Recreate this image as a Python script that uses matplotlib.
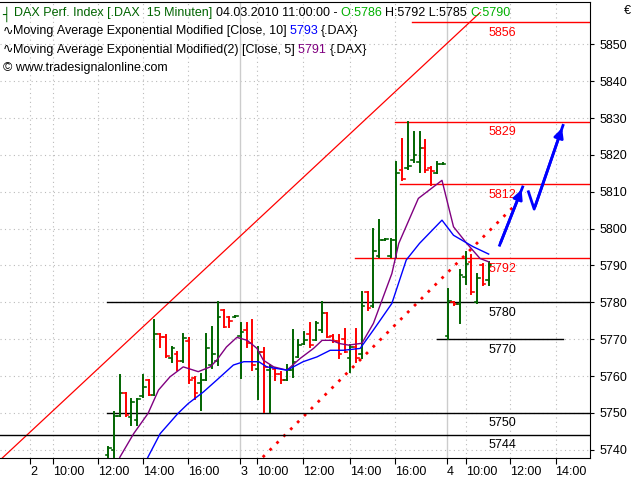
import matplotlib
matplotlib.use("Agg")
import matplotlib.pyplot as plt

plt.rcParams['font.family'] = ['Liberation Sans', 'DejaVu Sans']

highs = [5740.8,5750.3,5760.4,5755.3,5753.9,5753.9,5760.3,5758.9,5775.2,5771.5,5771.1,5767.9,5766.6,5771.5,5770.2,5759.8,5760.7,5771.5,5773.4,5780.1,5777.9,5776.1,5776.3,5774.3,5774.3,5775.2,5767.9,5767.5,5763.0,5762.1,5761.2,5763.0,5772.4,5769.7,5772.0,5774.3,5774.7,5780.1,5777.0,5771.1,5771.1,5772.9,5768.4,5772.9,5782.9,
         5782.9,5800.0,5802.3,5797.3,5797.3,5818.1,5824.4,5828.8,5826.2,5826.2,5824.0,5816.7,5818.1,5817.8,5783.6,5780.2,5788.7,5793.7,5792.8,5787.8,5790.5,5791.0]
lows = [5738.1,5738.1,5749.1,5749.1,5746.7,5746.7,5754.4,5754.8,5754.8,5767.9,5765.2,5763.9,5761.6,5763.9,5758.0,5753.9,5750.8,5758.9,5762.1,5763.0,5773.4,5773.4,5776.1,5759.4,5767.9,5761.6,5753.9,5750.3,5750.3,5758.9,5758.0,5758.9,5759.8,5765.2,5768.8,5767.9,5769.7,5772.0,5770.6,5769.3,5764.8,5766.6,5761.2,5763.9,5764.8,
        5777.9,5778.8,5792.4,5796.9,5792.4,5792.4,5813.1,5816.3,5818.1,5815.4,5815.4,5811.8,5815.0,5817.4,5770.0,5779.3,5774.3,5785.1,5782.4,5779.7,5784.7,5784.7]
opens = [5738.5,5740.0,5749.1,5755.3,5749.0,5748.0,5754.5,5758.9,5755.0,5771.5,5770.5,5765.0,5766.0,5764.0,5769.5,5759.5,5758.0,5759.0,5763.0,5764.0,5777.9,5776.0,5776.1,5771.0,5772.5,5769.0,5762.0,5766.6,5761.6,5762.0,5760.5,5759.0,5761.6,5765.2,5768.8,5771.5,5769.7,5772.4,5777.0,5771.0,5769.5,5770.0,5765.0,5768.0,5766.0,
         5782.9,5779.0,5792.5,5796.9,5792.5,5797.0,5816.0,5816.5,5818.5,5818.0,5822.0,5816.5,5815.0,5817.4,5771.0,5780.2,5779.5,5787.0,5791.0,5780.0,5790.0,5786.0]
closes = [5740.5,5749.1,5755.3,5749.5,5753.0,5753.9,5757.0,5754.8,5771.5,5770.5,5765.5,5767.5,5764.0,5770.2,5759.0,5755.5,5759.0,5767.5,5766.0,5776.0,5773.4,5775.0,5776.3,5772.0,5769.0,5763.0,5766.6,5762.5,5762.5,5760.5,5759.0,5761.6,5763.9,5768.4,5769.7,5768.4,5774.3,5777.0,5770.6,5769.5,5766.0,5766.6,5768.0,5765.0,5779.0,
          5778.5,5794.0,5797.0,5797.3,5797.0,5815.0,5813.5,5817.0,5820.0,5822.0,5816.0,5815.5,5817.6,5817.6,5780.5,5779.5,5787.5,5790.5,5782.9,5786.5,5785.1,5790.0]

ema5_x = [1.0,2.0,4.4,6.9,8.7,10.7,13.0,15.6,17.7,18.8,20.5,22.3,24.1,25.8,26.9,28.7,31.0,33.3,35.6,37.1,38.7,40.2,41.7,44.0,46.0,49.2,50.4,53.8,57.9,59.9,62.2,64.5,66.0]
ema5_y = [5733,5738,5744.4,5749.9,5756.2,5759.8,5762.5,5761.2,5762.5,5764.3,5767.9,5770.5,5769.7,5767.5,5764.3,5762.5,5761.6,5764.8,5767.5,5769.7,5769.7,5768.8,5768.4,5768.9,5774.3,5787.8,5796,5808.2,5813.1,5800.5,5796,5791.9,5791]
ema10_x = [6.0,6.9,9.0,12.1,13.9,16.5,18.8,21.7,23.5,26.1,27.5,31.0,33.8,36.2,38.5,40.8,43.7,46.0,49.2,51.7,54.0,57.9,59.9,63.3,66.0]
ema10_y = [5735,5738.1,5744.4,5749.9,5752.6,5755.7,5758.9,5763,5763.9,5763.9,5762.5,5761.6,5763.9,5765.2,5767,5767,5767.5,5772.5,5779.7,5791.5,5796,5802.3,5798.2,5795.1,5793.1]

tick_pos = [-13.6,-9.6,-1.8,6.0,13.8,22.9,25.8,33.8,42.0,49.8,58.8,62.1,69.7,77.6]
tick_lab = ["2","10:00","12:00","14:00","16:00","3","10:00","12:00","14:00","16:00","4","10:00","12:00","14:00"]
day_pos = [22.9, 58.8]
y_ticks = [5740,5750,5760,5770,5780,5790,5800,5810,5820,5830,5840,5850]

black_levels = [5780, 5770, 5750, 5744]
black_start = [-0.2, 57.1, -0.2, -18.8]
black_end = [83.6, 78.9, 83.6, 83.6]
red_levels = [5856, 5829, 5812, 5792]
red_start = [52.7, 49.8, 50.6, 42.8]

trend_x = [-18.8, 64.5]; trend_y = [5737.2, 5858.6]
dot_x = [26.8, 70.6]; dot_y = [5738, 5806.4]
arrow1_x = [67.9, 71.9]; arrow1_y = [5795.5, 5811.3]
arrow2_x = [72.9, 73.9, 78.9]; arrow2_y = [5810, 5805.3, 5828]

fig = plt.figure(figsize=(6.4, 4.8), dpi=100)
ax = fig.add_axes([0.0, 0.046, 0.922, 0.950])
XMIN, XMAX, YMIN, YMAX = -18.8, 83.6, 5737.8, 5861.5
ax.set_xlim(XMIN, XMAX); ax.set_ylim(YMIN, YMAX)

for y in y_ticks:
    ax.axhline(y, color="#bbbbbb", lw=0.8, ls=(0, (1, 3)), zorder=0)
for x in tick_pos:
    if x in day_pos:
        ax.axvline(x, color="#cccccc", lw=1.0, zorder=0)
    else:
        ax.axvline(x, color="#bbbbbb", lw=0.8, ls=(0, (1, 3)), zorder=0)

ax.plot(trend_x, trend_y, color="red", lw=0.9, zorder=2)
ax.plot(dot_x, dot_y, color="red", lw=2, ls=(0, (1, 2.5)), zorder=2)

for lv, s, e in zip(black_levels, black_start, black_end):
    ax.plot([s, e], [lv, lv], color="black", lw=1.0, zorder=2)
    ax.text(65.9, lv - 1.2, str(lv), color="black", fontsize=9, va="top", ha="left")
for lv, s in zip(red_levels, red_start):
    ax.plot([s, XMAX], [lv, lv], color="red", lw=1.0, zorder=2)
    ax.text(65.9, lv - 1.2, str(lv), color="red", fontsize=9, va="top", ha="left")

for i, (o, h, l, c) in enumerate(zip(opens, highs, lows, closes)):
    col = "#006400" if c >= o else "red"
    ax.plot([i, i], [l, h], color=col, lw=1.4, zorder=3)
    ax.plot([i - 0.45, i], [o, o], color=col, lw=1.2, zorder=3)
    ax.plot([i, i + 0.45], [c, c], color=col, lw=1.2, zorder=3)

ax.plot(ema5_x, ema5_y, color="purple", lw=1.0, zorder=4)
ax.plot(ema10_x, ema10_y, color="blue", lw=1.0, zorder=4)

ax.plot(arrow1_x, arrow1_y, color="blue", lw=2, zorder=5)
ax.annotate("", xy=(arrow1_x[-1], arrow1_y[-1]), xytext=(arrow1_x[-2], arrow1_y[-2]),
            arrowprops=dict(arrowstyle="-|>", color="blue", lw=2, mutation_scale=14))
ax.plot(arrow2_x, arrow2_y, color="blue", lw=2, zorder=5)
ax.annotate("", xy=(arrow2_x[-1], arrow2_y[-1]), xytext=(arrow2_x[-2], arrow2_y[-2]),
            arrowprops=dict(arrowstyle="-|>", color="blue", lw=2, mutation_scale=14))

ax.yaxis.tick_right()
ax.set_yticks(y_ticks)
ax.tick_params(axis="y", labelsize=9, length=3)
ax.set_xticks(tick_pos)
ax.set_xticklabels(tick_lab, fontsize=9, ha="left")
ax.tick_params(axis="x", length=4, pad=2)
ax.spines["left"].set_visible(False)

fs = 9
renderer = fig.canvas.get_renderer()
def seq(x, y, parts):
    for s, col in parts:
        t = fig.text(x, y, s.replace(" ", "\u00a0"), fontsize=fs, va="top", color=col,
                     family="Liberation Sans")
        bb = t.get_window_extent(renderer)
        x = x + bb.width / fig.bbox.width

fig.text(0.004, 0.987, "┤", fontsize=fs, va="top", color="#006400", family="DejaVu Sans")
seq(0.022, 0.985, [("DAX Perf. Index [.DAX  15 Minuten] ", "#006400"),
                   ("04.03.2010 11:00:00 - ", "black"), ("O:5786 ", "#00b000"),
                   ("H:5792 L:5785 ", "black"), ("C:5790", "#00b000")])
fig.text(0.004, 0.949, "∿", fontsize=fs, va="top", family="DejaVu Sans")
seq(0.020, 0.947, [("Moving Average Exponential Modified [Close, 10] ", "black"),
                   ("5793 ", "blue"), ("{.DAX}", "black")])
fig.text(0.004, 0.911, "∿", fontsize=fs, va="top", family="DejaVu Sans")
seq(0.020, 0.909, [("Moving Average Exponential Modified(2) [Close, 5] ", "black"),
                   ("5791 ", "purple"), ("{.DAX}", "black")])
fig.text(0.004, 0.871, "© www.tradesignalonline.com", fontsize=fs, va="top", family="Liberation Sans")
fig.text(0.975, 0.99, "€", fontsize=9, va="top")

fig.savefig("out.png", dpi=100)
